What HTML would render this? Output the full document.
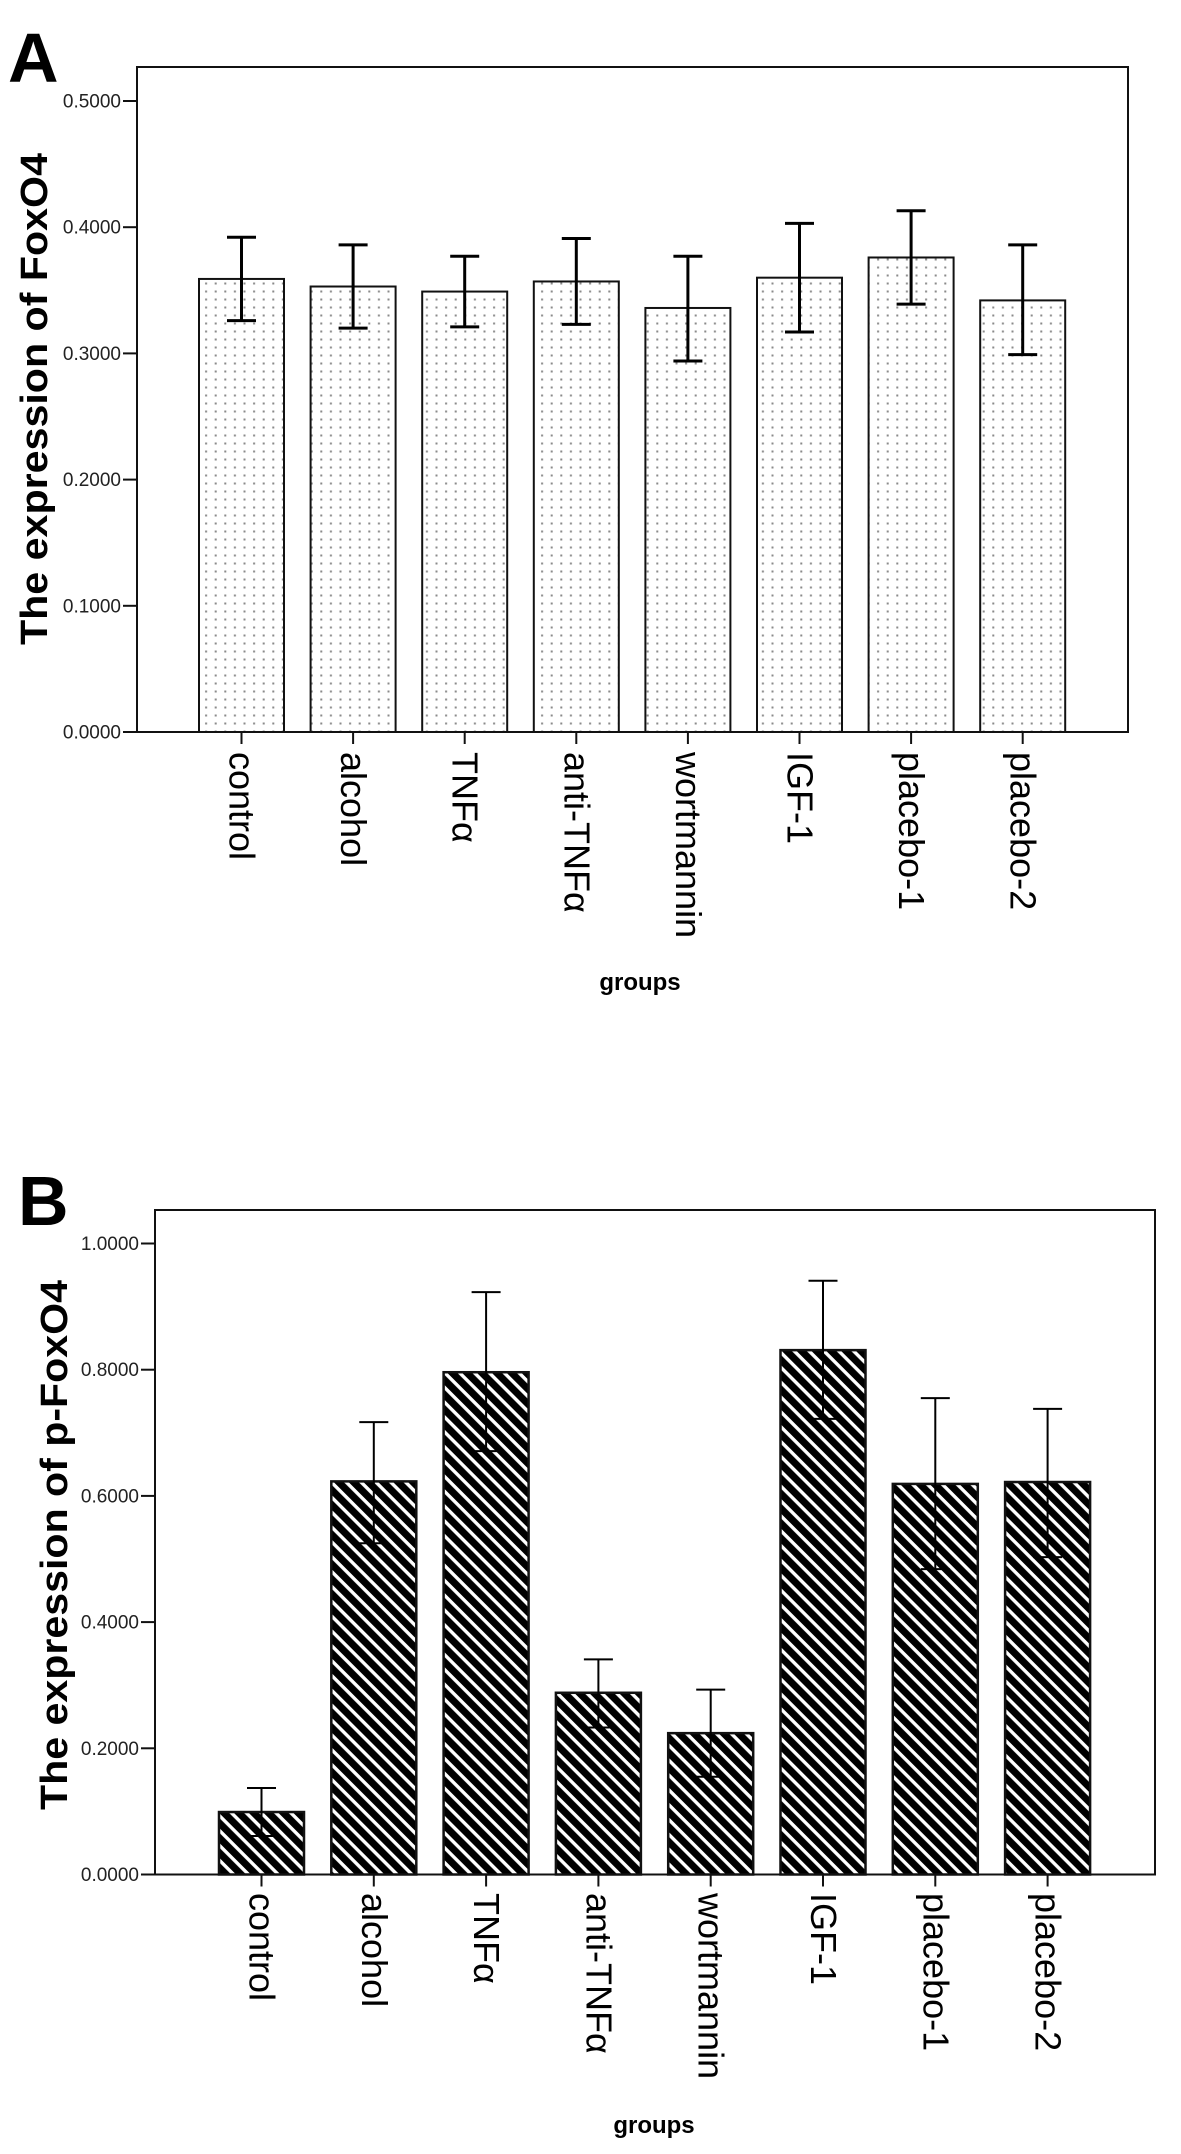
<!DOCTYPE html>
<html><head><meta charset="utf-8">
<style>
html,body{margin:0;padding:0;background:#fff;}
svg{display:block;}
text{font-family:"Liberation Sans",sans-serif;}
</style></head>
<body>
<svg id="fig" width="1181" height="2154" viewBox="0 0 1181 2154" xmlns="http://www.w3.org/2000/svg">
<defs>
<pattern id="dots" x="0" y="0" width="9.6" height="8" patternUnits="userSpaceOnUse">
<rect x="3.5" y="2.5" width="2" height="2" fill="#8a8a8a"/>
</pattern>
<pattern id="stripes" x="0" y="0" width="10.5" height="10.5" patternUnits="userSpaceOnUse" patternTransform="rotate(45)">
<rect x="0" y="0" width="10.5" height="10.5" fill="#000"/>
<rect x="0" y="3.5" width="10.5" height="3.4" fill="#fff"/>
</pattern>
</defs>
<g id="chartA"></g>
<g id="chartB"></g>
</svg>
<script>
const categories = ["control","alcohol","TNFα","anti-TNFα","wortmannin","IGF-1","placebo-1","placebo-2"];
const meansA = [0.359,0.353,0.349,0.357,0.336,0.360,0.376,0.342];
const upperA = [0.392,0.386,0.377,0.391,0.377,0.403,0.413,0.386];
const lowerA = [0.326,0.320,0.321,0.323,0.294,0.317,0.339,0.299];
const ticksA = [0,0.1,0.2,0.3,0.4,0.5];
const tickLabelsA = ["0.0000","0.1000","0.2000","0.3000","0.4000","0.5000"];
const meansB = [0.099,0.623,0.796,0.288,0.224,0.831,0.619,0.622];
const upperB = [0.137,0.717,0.923,0.341,0.293,0.941,0.755,0.738];
const lowerB = [0.061,0.525,0.671,0.233,0.155,0.722,0.484,0.503];
const ticksB = [0,0.2,0.4,0.6,0.8,1.0];
const tickLabelsB = ["0.0000","0.2000","0.4000","0.6000","0.8000","1.0000"];

const NS = "http://www.w3.org/2000/svg";
function mk(parent, tag, attrs){
  const e = document.createElementNS(NS, tag);
  for (const k in attrs) e.setAttribute(k, attrs[k]);
  parent.appendChild(e);
  return e;
}

function drawChart(g, cfg){
  const yS = v => cfg.y0 - (v - 0) / cfg.vmax * (cfg.y0 - cfg.yTop);
  const xS = i => cfg.x0 + cfg.pitch * i;
  // letter
  const L = mk(g,"text",{x:cfg.letterX,y:cfg.letterY,"font-size":70,"font-weight":"bold"});
  L.textContent = cfg.letter;
  
  
  // frame
  const fr = mk(g,"rect",{x:cfg.fl,y:cfg.ft,width:cfg.fr-cfg.fl,height:cfg.y0-cfg.ft,fill:"none",stroke:"#111","stroke-width":2});
  
  
  // y ticks
  cfg.ticks.forEach((t,i)=>{
    const y = yS(t);
    const tl = mk(g,"line",{x1:cfg.fl-14,x2:cfg.fl,y1:y,y2:y,stroke:"#111","stroke-width":2});
    
    
    const tx = mk(g,"text",{x:cfg.fl-16,y:y+6.5,"font-size":19,"text-anchor":"end",fill:"#222"});
    tx.textContent = cfg.tickLabels[i];
    
    
  });
  // y title
  const yt = mk(g,"text",{x:0,y:0,"font-size":38,"font-weight":"bold","text-anchor":"middle",
    transform:`translate(${cfg.ytX},${cfg.ytY}) rotate(-90)`,textLength:cfg.ytLen,lengthAdjust:"spacingAndGlyphs"});
  yt.textContent = cfg.ytitle;
  
  
  // bars
  categories.forEach((c,i)=>{
    const cx = xS(i);
    const top = yS(cfg.means[i]);
    const bar = mk(g,"rect",{x:cx-42.5,y:top,width:85,height:cfg.y0-top,fill:cfg.fill,stroke:"#111","stroke-width":cfg.barStroke});
    
    
    const yu = yS(cfg.upper[i]), yl = yS(cfg.lower[i]);
    const eb = mk(g,"g",{stroke:"#000","stroke-width":cfg.errW});
    
    
    mk(eb,"line",{x1:cx,x2:cx,y1:yu,y2:yl});
    mk(eb,"line",{x1:cx-14.5,x2:cx+14.5,y1:yu,y2:yu});
    mk(eb,"line",{x1:cx-14.5,x2:cx+14.5,y1:yl,y2:yl});
    const xt = mk(g,"line",{x1:cx,x2:cx,y1:cfg.y0,y2:cfg.y0+12,stroke:"#111","stroke-width":2});
    
    
    const lb = mk(g,"text",{x:0,y:0,"font-size":36,transform:`translate(${cx-12},${cfg.labY}) rotate(90)`});
    lb.textContent = c;
    
    
  });
  const gx = mk(g,"text",{x:cfg.gX,y:cfg.gY,"font-size":24,"font-weight":"bold","text-anchor":"middle"});
  gx.textContent = "groups";
  
  
}

drawChart(document.getElementById("chartA"),{
  letter:"A",letterX:8,letterY:82,
  fl:137,fr:1128,ft:67,y0:732,yTop:101,vmax:0.5,
  x0:241.5,pitch:111.6,
  ticks:ticksA,tickLabels:tickLabelsA,
  ytitle:"The expression of  FoxO4",ytX:47,ytY:399,ytLen:492,
  means:meansA,upper:upperA,lower:lowerA,
  fill:"url(#dots)",barStroke:2,errW:3,
  labY:752,gX:640,gY:990
});
drawChart(document.getElementById("chartB"),{
  letter:"B",letterX:18,letterY:1225,
  fl:155,fr:1155,ft:1210,y0:1874.5,yTop:1243.5,vmax:1.0,
  x0:261.5,pitch:112.3,
  ticks:ticksB,tickLabels:tickLabelsB,
  ytitle:"The expression of  p-FoxO4",ytX:67,ytY:1545,ytLen:530,
  means:meansB,upper:upperB,lower:lowerB,
  fill:"url(#stripes)",barStroke:2.5,errW:2,
  labY:1893,gX:654,gY:2133
});
</script>
</body></html>
